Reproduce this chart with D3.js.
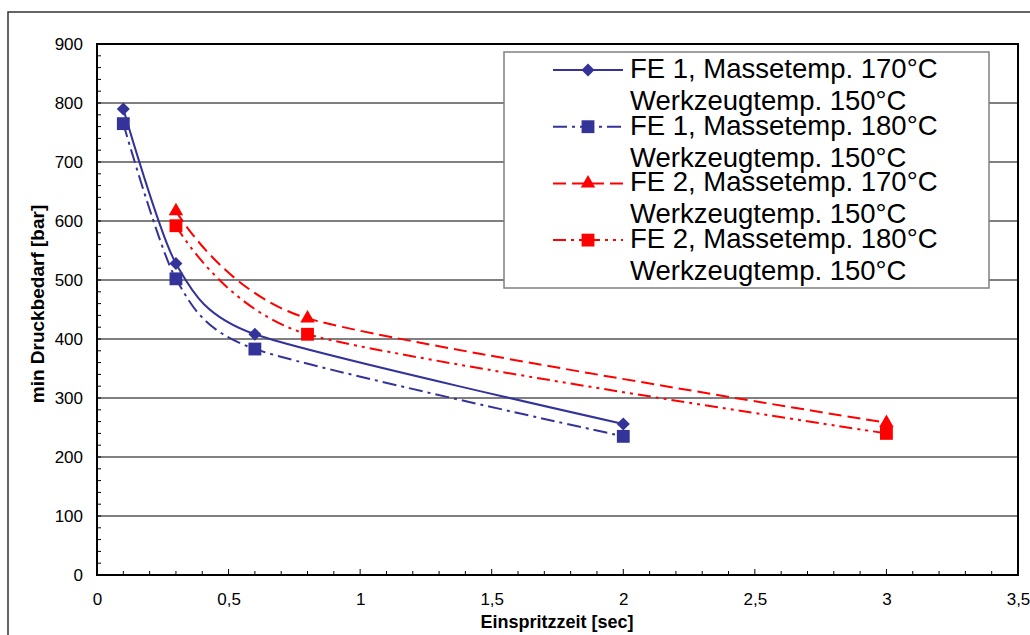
<!DOCTYPE html>
<html>
<head>
<meta charset="utf-8">
<script src="https://cdn.jsdelivr.net/npm/d3@7"></script>
<style>
  body { margin: 0; background: #fff; }
  text { font-family: Arial, "Liberation Sans", sans-serif; }
</style>
</head>
<body>
<svg width="1030" height="635"></svg>
<script>
// data
var xTicks = [0, 0.5, 1, 1.5, 2, 2.5, 3, 3.5];
var yTicks = [0, 100, 200, 300, 400, 500, 600, 700, 800, 900];

var fe1_170_x = [0.1, 0.3, 0.6, 2];
var fe1_170_y = [790, 528, 408, 256];
var fe1_180_x = [0.1, 0.3, 0.6, 2];
var fe1_180_y = [765, 502, 383, 235];
var fe2_170_x = [0.3, 0.8, 3];
var fe2_170_y = [617, 435, 258];
var fe2_180_x = [0.3, 0.8, 3];
var fe2_180_y = [592, 408, 240];

var seriesNames = [
    ["FE 1, Massetemp. 170°C", "Werkzeugtemp. 150°C"],
    ["FE 1, Massetemp. 180°C", "Werkzeugtemp. 150°C"],
    ["FE 2, Massetemp. 170°C", "Werkzeugtemp. 150°C"],
    ["FE 2, Massetemp. 180°C", "Werkzeugtemp. 150°C"]
];

// square-ish diamond, like the excel marker
var diamond = {
    draw: function(ctx, size) {
        var r = Math.sqrt(size / 2);
        ctx.moveTo(0, -r);
        ctx.lineTo(r, 0);
        ctx.lineTo(0, r);
        ctx.lineTo(-r, 0);
        ctx.closePath();
    }
};

var series = [
    { x: fe1_170_x, y: fe1_170_y, color: "#333399", dash: null, sym: diamond, size: 85 },
    { x: fe1_180_x, y: fe1_180_y, color: "#333399", dash: "14,5,3,5", sym: d3.symbolSquare, size: 165 },
    { x: fe2_170_x, y: fe2_170_y, color: "#ff0000", dash: "13,6", sym: d3.symbolTriangle, size: 90 },
    { x: fe2_180_x, y: fe2_180_y, color: "#ff0000", dash: "13,5,3,5,3,5", sym: d3.symbolSquare, size: 165 }
];

var svg = d3.select("svg"),
    pL = 97, pR = 1018, pT = 44, pB = 575;

var x = d3.scaleLinear().domain([0, 3.5]).range([pL, pR]);
var y = d3.scaleLinear().domain([0, 900]).range([pB, pT]);

// outer frame
svg.append("rect")
    .attr("x", 8).attr("y", 12)
    .attr("width", 1040).attr("height", 640)
    .attr("fill", "none")
    .attr("stroke", "#333")
    .attr("stroke-width", 1.5);

// gridlines
svg.append("g")
    .selectAll("line")
    .data(yTicks.filter(function(d) { return d > 0 && d < 900; }))
    .enter().append("line")
        .attr("x1", pL).attr("x2", pR)
        .attr("y1", function(d) { return y(d); })
        .attr("y2", function(d) { return y(d); })
        .attr("stroke", "#000")
        .attr("stroke-width", 1);

// minor ticks
svg.append("g")
    .selectAll("line")
    .data(d3.range(0, 901, 20))
    .enter().append("line")
        .attr("x1", pL).attr("x2", pL + 4)
        .attr("y1", function(d) { return y(d); })
        .attr("y2", function(d) { return y(d); })
        .attr("stroke", "#000");

svg.append("g")
    .selectAll("line")
    .data(d3.range(0, 36).map(function(i) { return i / 10; }))
    .enter().append("line")
        .attr("x1", function(d) { return x(d); })
        .attr("x2", function(d) { return x(d); })
        .attr("y1", pB)
        .attr("y2", function(d, i) { return i % 5 == 0 ? pB - 6 : pB - 4; })
        .attr("stroke", "#000");

// plot border
svg.append("rect")
    .attr("x", pL).attr("y", pT)
    .attr("width", pR - pL).attr("height", pB - pT)
    .attr("fill", "none")
    .attr("stroke", "#000")
    .attr("stroke-width", 2);

// axes labels
var yAxis = d3.axisLeft(y).tickValues(yTicks).tickSize(0).tickPadding(14);
svg.append("g")
    .attr("transform", "translate(" + pL + ",0)")
    .call(yAxis)
    .call(function(g) { g.select(".domain").remove(); })
    .selectAll("text")
        .style("font-size", "17px")
        .style("font-family", "Arial, 'Liberation Sans', sans-serif")
        .attr("fill", "#000");

var xAxis = d3.axisBottom(x).tickValues(xTicks).tickSize(0).tickPadding(18)
    .tickFormat(function(d) { return String(d).replace(".", ","); });
svg.append("g")
    .attr("transform", "translate(0," + pB + ")")
    .call(xAxis)
    .call(function(g) { g.select(".domain").remove(); })
    .selectAll("text")
        .style("font-size", "17px")
        .style("font-family", "Arial, 'Liberation Sans', sans-serif")
        .attr("fill", "#000");

svg.append("text")
    .attr("x", 557)
    .attr("y", 628)
    .attr("text-anchor", "middle")
    .style("font-size", "18px")
    .style("font-weight", "bold")
    .text("Einspritzzeit [sec]");

svg.append("text")
    .attr("transform", "translate(44,304) rotate(-90)")
    .attr("text-anchor", "middle")
    .style("font-size", "19px")
    .style("font-weight", "bold")
    .text("min Druckbedarf [bar]");

// series lines (excel style smoothing)
var line = d3.line()
    .x(function(d) { return x(d[0]); })
    .y(function(d) { return y(d[1]); })
    .curve(d3.curveCardinal.tension(0.3));

series.forEach(function(s) {
    var pts = s.x.map(function(v, i) { return [v, s.y[i]]; });
    svg.append("path")
        .datum(pts)
        .attr("d", line)
        .attr("fill", "none")
        .attr("stroke", s.color)
        .attr("stroke-width", 2)
        .attr("stroke-dasharray", s.dash);
    svg.append("g")
        .selectAll("path")
        .data(pts)
        .enter().append("path")
            .attr("d", d3.symbol().type(s.sym).size(s.size))
            .attr("transform", function(d) { return "translate(" + x(d[0]) + "," + y(d[1]) + ")"; })
            .attr("fill", s.color);
});

// legend
var legend = svg.append("g");
legend.append("rect")
    .attr("x", 504).attr("y", 52)
    .attr("width", 485).attr("height", 236)
    .attr("fill", "#fff")
    .attr("stroke", "#808080")
    .attr("stroke-width", 1.5);

series.forEach(function(s, i) {
    var by = 78 + i * 56.7;
    var g = legend.append("g");
    g.append("line")
        .attr("x1", 553).attr("x2", 623)
        .attr("y1", by - 8).attr("y2", by - 8)
        .attr("stroke", s.color)
        .attr("stroke-width", 2)
        .attr("stroke-dasharray", s.dash);
    g.append("path")
        .attr("d", d3.symbol().type(s.sym).size(s.size))
        .attr("transform", "translate(588," + (by - 8) + ")")
        .attr("fill", s.color);
    g.append("text")
        .attr("x", 630).attr("y", by)
        .style("font-size", "27.5px")
        .text(seriesNames[i][0]);
    g.append("text")
        .attr("x", 630).attr("y", by + 32)
        .style("font-size", "27.5px")
        .text(seriesNames[i][1]);
});
</script>
</body>
</html>
